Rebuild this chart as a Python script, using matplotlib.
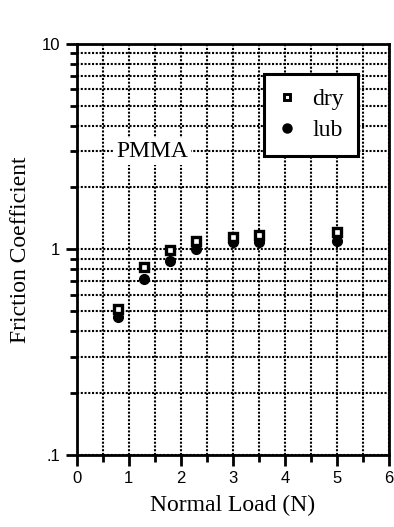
import matplotlib
matplotlib.use("Agg")
import matplotlib.pyplot as plt
from matplotlib.ticker import FixedLocator, FixedFormatter, LogLocator, NullFormatter
from matplotlib.lines import Line2D

# data
load = [0.8, 1.3, 1.8, 2.3, 3.0, 3.5, 5.0]
mu_dry = [0.51, 0.82, 0.99, 1.10, 1.15, 1.17, 1.22]
mu_lub = [0.47, 0.72, 0.88, 1.00, 1.08, 1.08, 1.10]

serif = ["Liberation Serif", "DejaVu Serif"]
sans = ["Liberation Sans", "DejaVu Sans"]

fig = plt.figure(figsize=(3.94, 5.27), dpi=100)
ax = fig.add_axes([0.195, 0.137, 0.792, 0.78])

ax.set_yscale("log")
ax.set_xlim(0, 6)
ax.set_ylim(0.1, 10)

ax.xaxis.set_major_locator(FixedLocator([0, 1, 2, 3, 4, 5, 6]))
ax.xaxis.set_minor_locator(FixedLocator([0.5, 1.5, 2.5, 3.5, 4.5, 5.5]))
ax.yaxis.set_major_locator(FixedLocator([0.1, 1, 10]))
ax.yaxis.set_major_formatter(FixedFormatter([".1", "1", "10"]))
ax.yaxis.set_minor_locator(LogLocator(base=10, subs=range(2, 10)))
ax.yaxis.set_minor_formatter(NullFormatter())

ax.grid(True, which="both", color="black", linestyle=(0, (1, 0.8)), linewidth=1.5)
ax.set_axisbelow(True)

for s in ax.spines.values():
    s.set_linewidth(2)

ax.tick_params(which="major", direction="out", length=8, width=2, labelsize=12, pad=4)
ax.tick_params(which="minor", direction="out", length=5, width=2)
for lab in ax.get_xticklabels() + ax.get_yticklabels():
    lab.set_family(sans)

# lub drawn under the dry squares
ax.plot(load, mu_lub, linestyle="none", marker="o", markersize=7,
        color="black", zorder=3)
ax.plot(load, mu_dry, linestyle="none", marker="s", markersize=5.3,
        markerfacecolor="white", markeredgecolor="black", markeredgewidth=2.4, zorder=4)

ax.text(1.45, 3.0, "PMMA", family=serif, fontsize=17, ha="center", va="center",
        bbox=dict(facecolor="white", edgecolor="none", pad=2), zorder=5)

handles = [
    Line2D([], [], linestyle="none", marker="s", markersize=4.5, markerfacecolor="white",
           markeredgecolor="black", markeredgewidth=2.1),
    Line2D([], [], linestyle="none", marker="o", markersize=6.5, color="black"),
]
leg = ax.legend(handles, ["dry", "lub"], loc="upper left", bbox_to_anchor=(0.6, 0.927),
                prop={"family": serif, "size": 17}, frameon=True, fancybox=False,
                framealpha=1, edgecolor="black", handlelength=0.7, handletextpad=0.72,
                labelspacing=0.42, borderpad=0.62, borderaxespad=0)
leg.get_frame().set_linewidth(2.2)
leg.set_zorder(6)

ax.set_xlabel("Normal Load (N)", family=serif, fontsize=17, labelpad=6)
ax.set_ylabel("Friction Coefficient", family=serif, fontsize=17, labelpad=8)

fig.savefig("out.png", dpi=100)
